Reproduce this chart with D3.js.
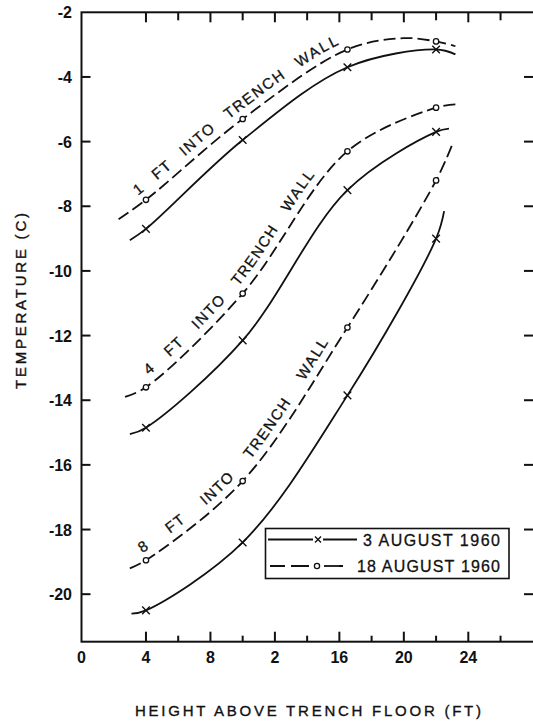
<!DOCTYPE html>
<html><head><meta charset="utf-8">
<script src="https://cdn.jsdelivr.net/npm/d3@7"></script>
<style>
html,body{margin:0;padding:0;background:#fff;}
svg{display:block;}
text{font-family:"Liberation Sans",Arial,sans-serif;fill:#111;}
</style></head>
<body>
<script>
// ---- data ----
const markerHeights = [4, 10, 16.5, 22];
const xTickValues = [0, 4, 8, 12, 16, 20, 24];
const xTickLabels = ["0", "4", "8", "2", "16", "20", "24"];
const yTickValues = [-2, -4, -6, -8, -10, -12, -14, -16, -18, -20];
const yTickLabels = ["-2", "-4", "-6", "-8", "-10", "-12", "-14", "-16", "-18", "-20"];

// measured values at markers
const aug3_1ft  = [-8.7, -5.95, -3.7, -3.15];
const aug18_1ft = [-7.8, -5.3, -3.15, -2.9];
const aug3_4ft  = [-14.85, -12.15, -7.5, -5.7];
const aug18_4ft = [-13.6, -10.7, -6.3, -4.95];
const aug3_8ft  = [-20.5, -18.4, -13.85, -9.0];
const aug18_8ft = [-18.95, -16.5, -11.75, -7.2];

// extra points of the drawn curves (ends / bends)
const ext_aug3_1ft  = [[3.0, -9.05], [23.2, -3.3]];
const ext_aug18_1ft = [[2.3, -8.4], [20, -2.8], [23.2, -3.05]];
const ext_aug3_4ft  = [[3.0, -15.05], [22.8, -5.6]];
const ext_aug18_4ft = [[2.7, -13.9], [23.2, -4.85]];
const ext_aug3_8ft  = [[3.1, -20.6], [22.5, -8.15]];
const ext_aug18_8ft = [[3.0, -19.2], [23.0, -6.1]];

const seriesNames = ["3 AUGUST 1960", "18 AUGUST 1960"];
const depthLabels = ["1 FT INTO TRENCH WALL", "4 FT INTO TRENCH WALL", "8 FT INTO TRENCH WALL"];

// ---- build ----
const W = 533, H = 721;
const svg = d3.select("body").append("svg").attr("width", W).attr("height", H);

const x = d3.scaleLinear().domain([0, 28.2]).range([81.5, 536]);
const y = d3.scaleLinear().domain([-21.47, -2]).range([641.7, 12.3]);

const ink = "#111";

// frame
svg.append("rect").attr("x", x(0)).attr("y", y(-2))
  .attr("width", x(28.2) - x(0)).attr("height", y(-21.47) - y(-2))
  .attr("fill", "none").attr("stroke", ink).attr("stroke-width", 2);

// inward x ticks (bottom and top)
const xMinor = d3.range(4, 27, 2);
const gB = svg.append("g").attr("transform", `translate(0,${y(-21.47)})`);
gB.selectAll("line").data(xMinor).join("line")
  .attr("x1", d => x(d)).attr("x2", d => x(d))
  .attr("y1", 0).attr("y2", d => d % 4 === 0 ? -10 : -6)
  .attr("stroke", ink).attr("stroke-width", 2);
const gT = svg.append("g").attr("transform", `translate(0,${y(-2)})`);
gT.selectAll("line").data(xMinor).join("line")
  .attr("x1", d => x(d)).attr("x2", d => x(d))
  .attr("y1", 0).attr("y2", d => d % 4 === 0 ? 10 : 8)
  .attr("stroke", ink).attr("stroke-width", 2);

// x tick labels
svg.append("g").selectAll("text").data(xTickValues).join("text")
  .attr("x", d => x(d)).attr("y", 662.5)
  .attr("text-anchor", "middle").attr("font-size", 16).attr("font-weight", "bold")
  .text((d, i) => xTickLabels[i]);

// y ticks left and right
const yT = yTickValues.filter(v => v !== -2);
svg.append("g").selectAll("line").data(yT).join("line")
  .attr("x1", x(0)).attr("x2", x(0) + 9)
  .attr("y1", d => y(d)).attr("y2", d => y(d))
  .attr("stroke", ink).attr("stroke-width", 2);
svg.append("g").selectAll("line").data(yT).join("line")
  .attr("x1", x(28.2)).attr("x2", x(28.2) - 12)
  .attr("y1", d => y(d)).attr("y2", d => y(d))
  .attr("stroke", ink).attr("stroke-width", 2);
svg.append("g").selectAll("text").data(yTickValues).join("text")
  .attr("x", 72).attr("y", d => y(d) + 6)
  .attr("text-anchor", "end").attr("font-size", 16).attr("font-weight", "bold")
  .text((d, i) => yTickLabels[i]);

// axis titles
svg.append("text").attr("x", 308).attr("y", 716)
  .attr("text-anchor", "middle").attr("font-size", 15)
  .attr("stroke", ink).attr("stroke-width", 0.35)
  .attr("textLength", 346).attr("lengthAdjust", "spacing")
  .text("HEIGHT ABOVE TRENCH FLOOR (FT)");
svg.append("text").attr("transform", "translate(26,301) rotate(-90)")
  .attr("text-anchor", "middle").attr("font-size", 15)
  .attr("stroke", ink).attr("stroke-width", 0.35)
  .attr("textLength", 176).attr("lengthAdjust", "spacing")
  .text("TEMPERATURE  (C)");

// curves
const line = d3.line().x(d => x(d[0])).y(d => y(d[1])).curve(d3.curveCatmullRom.alpha(0.5));

function pts(vals, ext) {
  const p = markerHeights.map((h, i) => [h, vals[i]]).concat(ext);
  return p.sort((a, b) => a[0] - b[0]);
}

const curves = [
  {vals: aug3_1ft, ext: ext_aug3_1ft, dashed: false},
  {vals: aug18_1ft, ext: ext_aug18_1ft, dashed: true, label: depthLabels[0], lx0: 143, lx1: 344},
  {vals: aug3_4ft, ext: ext_aug3_4ft, dashed: false},
  {vals: aug18_4ft, ext: ext_aug18_4ft, dashed: true, label: depthLabels[1], lx0: 154, lx1: 322},
  {vals: aug3_8ft, ext: ext_aug3_8ft, dashed: false},
  {vals: aug18_8ft, ext: ext_aug18_8ft, dashed: true, label: depthLabels[2], lx0: 147, lx1: 336},
];

const gc = svg.append("g");
curves.forEach((c, ci) => {
  const p = gc.append("path").attr("id", "curve" + ci)
    .attr("d", line(pts(c.vals, c.ext)))
    .attr("fill", "none").attr("stroke", ink).attr("stroke-width", 1.8);
  if (c.dashed) p.attr("stroke-dasharray", "12,5");
  // markers
  const mk = gc.append("g").selectAll("g").data(markerHeights.map((h, i) => [h, c.vals[i]])).join("g")
    .attr("transform", d => `translate(${x(d[0])},${y(d[1])})`);
  if (c.dashed) {
    mk.append("circle").attr("r", 2.7).attr("fill", "#fff").attr("stroke", ink).attr("stroke-width", 1.3);
  } else {
    mk.append("path").attr("d", "M-3.8,-3.8L3.8,3.8M-3.8,3.8L3.8,-3.8")
      .attr("stroke", ink).attr("stroke-width", 1.4);
  }
  // labels along the dashed curve, one text per word
  if (c.label) {
    const node = p.node();
    const L = node.getTotalLength();
    const findLen = tx => {
      let lo = 0, hi = L;
      for (let k = 0; k < 40; k++) {
        const m = (lo + hi) / 2;
        if (node.getPointAtLength(m).x < tx) lo = m; else hi = m;
      }
      return lo;
    };
    const s0 = findLen(c.lx0), s1 = findLen(c.lx1);
    const words = c.label.split(" ");
    const ls = 1.6;
    const tmp = words.map(w => {
      const t = gc.append("text").attr("font-size", 15).attr("letter-spacing", ls).text(w);
      const wd = t.node().getComputedTextLength();
      t.remove();
      return wd;
    });
    const total = d3.sum(tmp);
    const gap = (s1 - s0 - total) / (words.length - 1);
    let pos = s0;
    words.forEach((w, wi) => {
      gc.append("text").attr("font-size", 15).attr("dy", -8).attr("letter-spacing", ls)
        .attr("stroke", ink).attr("stroke-width", 0.3)
        .append("textPath").attr("href", "#curve" + ci)
        .attr("startOffset", pos)
        .text(w);
      pos += tmp[wi] + gap;
    });
  }
});

// legend
const lg = svg.append("g");
lg.append("rect").attr("x", 265.5).attr("y", 528.5).attr("width", 243.5).attr("height", 50)
  .attr("fill", "#fff").attr("stroke", ink).attr("stroke-width", 1.6);
// row 1
lg.append("line").attr("x1", 268).attr("x2", 357).attr("y1", 539.5).attr("y2", 539.5)
  .attr("stroke", ink).attr("stroke-width", 1.8);
lg.append("rect").attr("x", 313).attr("y", 534).attr("width", 10).attr("height", 11).attr("fill", "#fff");
lg.append("path").attr("d", "M315,536.5L321,542.5M315,542.5L321,536.5").attr("stroke", ink).attr("stroke-width", 1.4);
lg.append("text").attr("x", 500).attr("y", 545.5).attr("text-anchor", "end")
  .attr("font-size", 16).attr("stroke", ink).attr("stroke-width", 0.3)
  .attr("textLength", 137).attr("lengthAdjust", "spacing").text(seriesNames[0]);
// row 2
lg.append("line").attr("x1", 270).attr("x2", 343).attr("y1", 566).attr("y2", 566)
  .attr("stroke", ink).attr("stroke-width", 1.8).attr("stroke-dasharray", "15,6,18,30");
lg.append("line").attr("x1", 324).attr("x2", 343).attr("y1", 566).attr("y2", 566)
  .attr("stroke", ink).attr("stroke-width", 1.8);
lg.append("circle").attr("cx", 317).attr("cy", 566).attr("r", 2.6)
  .attr("fill", "#fff").attr("stroke", ink).attr("stroke-width", 1.3);
lg.append("text").attr("x", 500).attr("y", 572).attr("text-anchor", "end")
  .attr("font-size", 16).attr("stroke", ink).attr("stroke-width", 0.3)
  .attr("textLength", 143).attr("lengthAdjust", "spacing").text(seriesNames[1]);
</script>
</body></html>
